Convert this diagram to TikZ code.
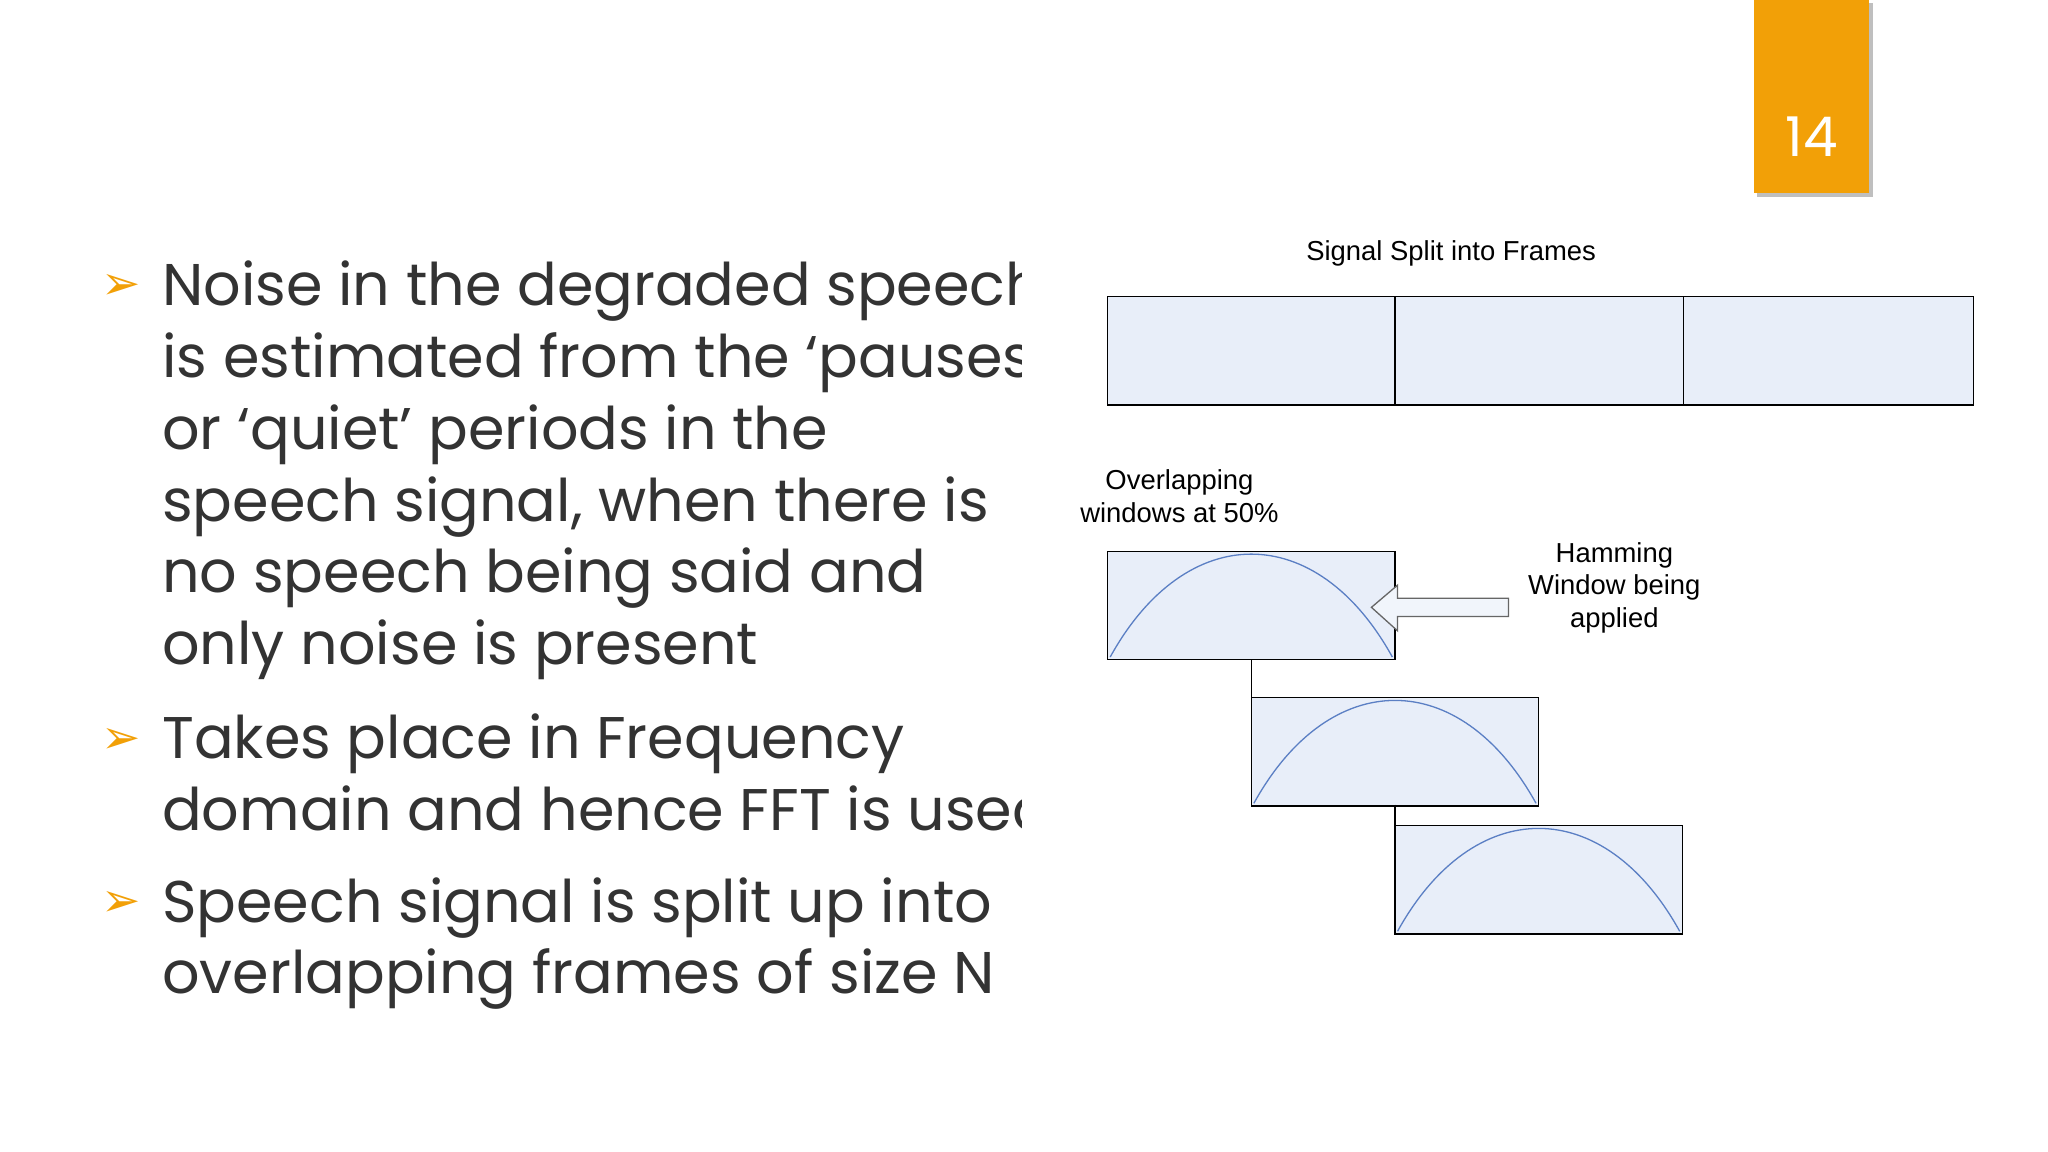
\documentclass[tikz,border=0pt]{standalone}
\usepackage{fontspec}
\setmainfont{Poppins}
\newfontfamily\arial{Liberation Sans}
\newfontfamily\djsans{DejaVu Sans}
\definecolor{orng}{HTML}{F2A007}
\definecolor{frm}{HTML}{E8EEF9}
\definecolor{arcc}{HTML}{5B7FC4}
\tikzset{
 bul/.style={anchor=base west,inner sep=0pt,font=\fontsize{45}{45}\selectfont,text=black!80},
 bmark/.style={text=orng,inner sep=0pt,font=\djsans\fontsize{36}{36}\selectfont},
 box/.style={draw=black,line width=1pt,fill=frm},
 lab/.style={font=\arial\fontsize{21}{25}\selectfont,align=center,inner sep=0pt},
 arcline/.style={draw=arcc,line width=1pt}
}
\begin{document}
\begin{tikzpicture}[x=1pt,y=-1pt]
\useasboundingbox (0,0) rectangle (1568,882);
\fill[white] (0,0) rectangle (1568,882);
\fill[black!25] (1345,2) rectangle (1434,151);
\fill[orng] (1343,0) rectangle (1431,148);
\node[text=white,font=\fontsize{42}{42}\selectfont\mdseries] (num) at (1387,105) {14};
\begin{scope}
\clip (60,150) rectangle (782,800);
\foreach \t/\y in {{Noise in the degraded speech}/218,{is estimated from the ‘pauses’}/273,{or ‘quiet’ periods in the}/328,{speech signal, when there is}/383,{no speech being said and}/438,{only noise is present}/493,{Takes place in Frequency}/565,{domain and hence FFT is used}/620,{Speech signal is split up into}/690,{overlapping frames of size N}/745}
  \node[bul] at (124,\y+16) {\t};
\end{scope}
\node[bmark] (m1) at (93,220) {➢};
\node[bmark] (m2) at (93,567) {➢};
\node[bmark] (m3) at (93,692) {➢};
% frames
\node[lab] (title) at (1111,194) {Signal Split into Frames};
\draw[box] (848,227) rectangle (1511,310);
\draw[line width=1pt] (1068,227) -- (1068,310) (1289,227) -- (1289,310);
\node[lab] (ov) at (903,380) {Overlapping\\windows at 50\%};
\node[lab] (ham) at (1236,450) {Hamming\\Window being\\applied};
\foreach \n/\x/\y in {w1/848/422,w2/958/534,w3/1068/632}{
  \draw[box] (\x,\y) rectangle ++(220,83);
  \coordinate (\n) at (\x,\y);
  \draw[arcline] (\x+2,\y+81) .. controls (\x+60,\y-24) and (\x+160,\y-24) .. (\x+218,\y+81);
}
\draw[line width=1pt] (958,505) -- (958,534);
\draw[line width=1pt] (1068,616) -- (1068,632);
\draw[black!60,fill=frm!60,line width=1pt] (1050,465) -- (1070,448) -- (1070,458) -- (1155,458) -- (1155,472) -- (1070,472) -- (1070,483) -- cycle;
\end{tikzpicture}
\end{document}
